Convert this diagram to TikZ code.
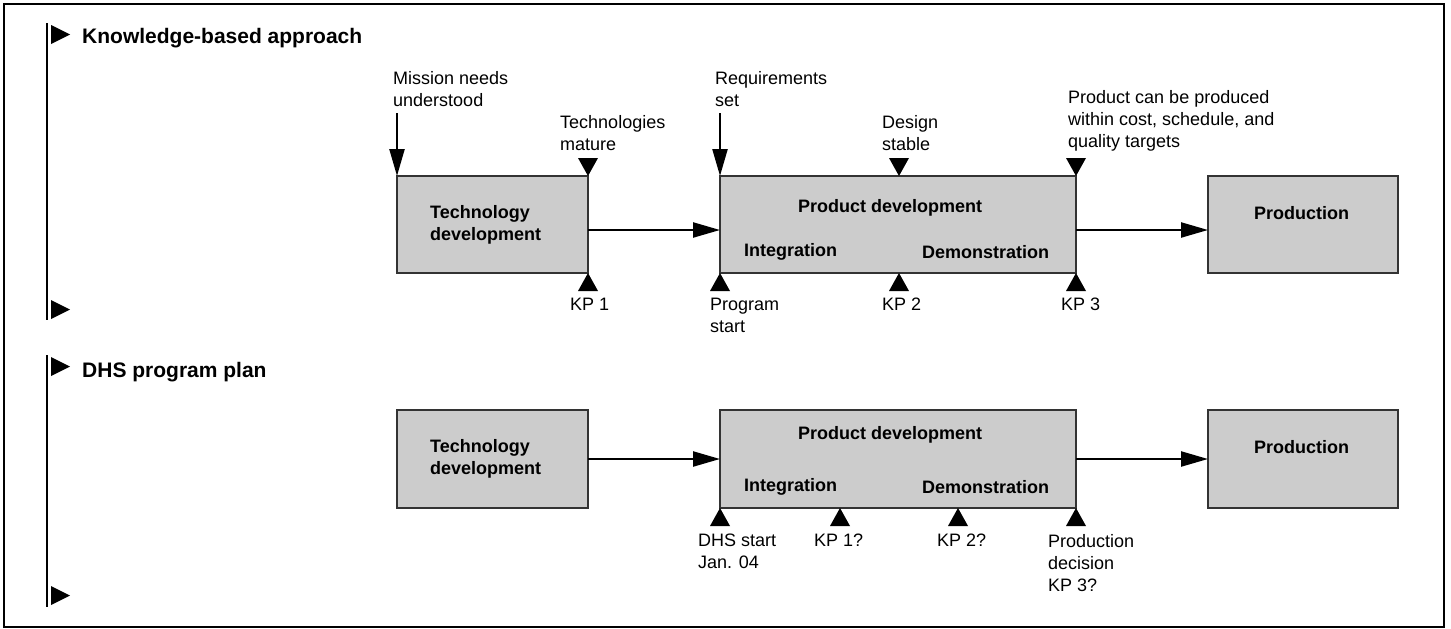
\documentclass[tikz,border=0pt]{standalone}
\usepackage{fontspec}
\setmainfont{Liberation Sans}
\usetikzlibrary{arrows.meta, positioning, calc}
\definecolor{BoxGray}{HTML}{CCCCCC}
\definecolor{EdgeGray}{HTML}{333333}

\begin{document}
\begin{tikzpicture}[x=1pt, y=-1pt,
    stage/.style={draw=EdgeGray, fill=BoxGray, line width=1.3pt, inner sep=0, outer sep=0, minimum height=97pt},
    flow/.style={-{Triangle[length=27pt, width=15pt]}, line width=2.3pt},
    txt/.style={font=\fontsize{18}{22}\selectfont, align=left, inner sep=0, anchor=north west},
    stxt/.style={font=\bfseries\fontsize{18}{22}\selectfont, align=left, inner sep=0, anchor=base west},
    head/.style={font=\bfseries\fontsize{21}{25}\selectfont, inner sep=0, anchor=base west}]

    \useasboundingbox (0,0) rectangle (1451,629);
    \draw[line width=1.6pt] (4,4) rectangle (1444,627);

    \def\flag#1{\fill (#1) -- ++(0,19) -- ++(19,-9.5) -- cycle;}
    \def\kpup#1{\fill (#1) -- ++(-10,18) -- ++(20,0) -- cycle;}
    \def\kpdown#1{\fill (#1) -- ++(-10,-18) -- ++(20,0) -- cycle;}

    % Knowledge-based approach
    \draw[line width=2.2pt] (47,23) -- (47,320);
    \flag{51,25}
    \flag{51,300}
    \node[head] (kb) at (82,43) {Knowledge-based approach};

    \node[stage, minimum width=191pt] (td1) at (492.5,224.5) {};
    \node[stxt, anchor=west, right=33pt of td1.west] (td1l) {Technology\\development};
    \node[stage, minimum width=356pt] (pd1) at (898,224.5) {};
    \node[stxt] (pd1t) at (798,212.5) {Product development};
    \node[stxt] (int1) at (744,256.5) {Integration};
    \node[stxt] (dem1) at (922,258.5) {Demonstration};
    \node[stage, minimum width=190pt] (pr1) at (1303,224.5) {};
    \node[stxt] (pr1t) at (1254,219.5) {Production};

    \draw[flow] ([yshift=-5.5pt]td1.east) -- ([yshift=-5.5pt]pd1.west);
    \draw[flow] ([yshift=-5.5pt]pd1.east) -- ([yshift=-5.5pt]pr1.west);

    % Milestones above
    \node[txt] (mission) at (393,71) {Mission needs\\understood};
    \coordinate[above=63pt of td1.north west] (msrc);
    \draw[flow] (msrc) -- (td1.north west);
    \node[txt] (techmat) at (560,115) {Technologies\\mature};
    \kpdown{td1.north east}
    \node[txt] (req) at (715,71) {Requirements\\set};
    \coordinate[above=63pt of pd1.north west] (rsrc);
    \draw[flow] (rsrc) -- (pd1.north west);
    \node[txt] (design) at (882,115) {Design\\stable};
    \kpdown{899,176}
    \node[txt] (prodcan) at (1068,90) {Product can be produced\\within cost, schedule, and\\quality targets};
    \kpdown{pd1.north east}

    % Milestones below
    \kpup{td1.south east}
    \node[txt] (kp1) at (570,298) {KP 1};
    \kpup{pd1.south west}
    \node[txt] (pstart) at (710,298) {Program\\start};
    \kpup{899,273}
    \node[txt] (kp2) at (882,298) {KP 2};
    \kpup{pd1.south east}
    \node[txt] (kp3) at (1061,298) {KP 3};

    % DHS program plan
    \draw[line width=2.2pt] (47,355) -- (47,607);
    \flag{51,357}
    \flag{51,586}
    \node[head] (dhs) at (82,377) {DHS program plan};

    \node[stage, minimum width=191pt, minimum height=98pt] (td2) at (492.5,459) {};
    \node[stxt, anchor=west, right=33pt of td2.west] (td2l) {Technology\\development};
    \node[stage, minimum width=356pt, minimum height=98pt] (pd2) at (898,459) {};
    \node[stxt] (pd2t) at (798,439.5) {Product development};
    \node[stxt] (int2) at (744,491.5) {Integration};
    \node[stxt] (dem2) at (922,493.5) {Demonstration};
    \node[stage, minimum width=190pt, minimum height=98pt] (pr2) at (1303,459) {};
    \node[stxt] (pr2t) at (1254,453.5) {Production};

    \draw[flow] (td2.east) -- (pd2.west);
    \draw[flow] (pd2.east) -- (pr2.west);

    \kpup{pd2.south west}
    \node[txt] (dstart) at (698,534) {DHS start\\Jan. 04};
    \kpup{840,508}
    \node[txt] (kp1q) at (814,534) {KP 1?};
    \kpup{958,508}
    \node[txt] (kp2q) at (937,534) {KP 2?};
    \kpup{pd2.south east}
    \node[txt] (pdec) at (1048,534) {Production\\decision\\KP 3?};

\end{tikzpicture}
\end{document}
